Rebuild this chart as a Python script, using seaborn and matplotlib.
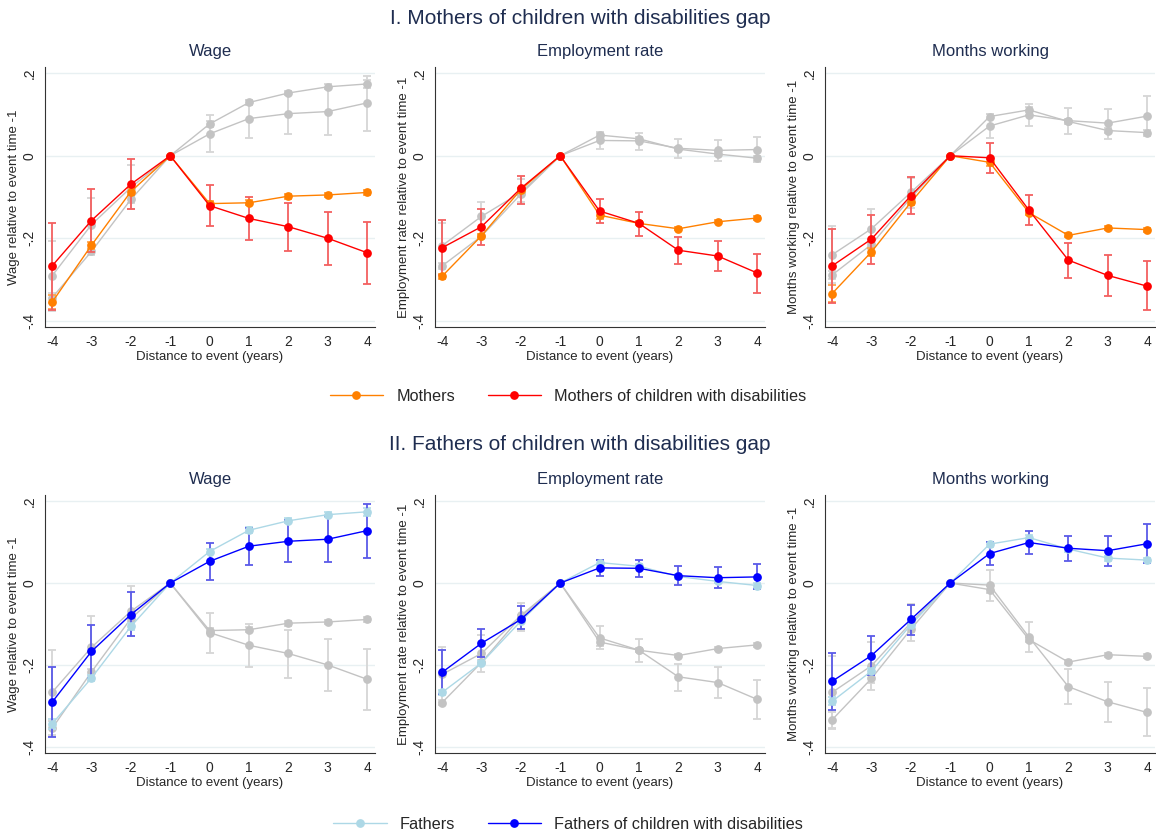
import numpy as np
import pandas as pd
import matplotlib
matplotlib.use("Agg")
import matplotlib.pyplot as plt
from matplotlib.lines import Line2D
import seaborn as sns

# --- datos ---
years = [-4, -3, -2, -1, 0, 1, 2, 3, 4]
outcomes = ["Wage", "Employment rate", "Months working"]
ylabels = ["Wage relative to event time -1",
           "Employment rate relative to event time -1",
           "Months working relative to event time -1"]
ytick_vals = [-0.4, -0.2, 0, 0.2]
ytick_labels = ["-.4", "-.2", "0", ".2"]

# Mothers
mothers_wage = [-0.355, -0.217, -0.087, 0, -0.116, -0.114, -0.098, -0.095, -0.089]
mothers_wage_lo = [-0.372, -0.225, -0.095, 0, -0.122, -0.120, -0.104, -0.100, -0.095]
mothers_wage_hi = [-0.338, -0.209, -0.079, 0, -0.110, -0.108, -0.092, -0.090, -0.083]
mothers_emp = [-0.292, -0.194, -0.082, 0, -0.144, -0.164, -0.177, -0.160, -0.151]
mothers_emp_lo = [-0.298, -0.199, -0.087, 0, -0.154, -0.169, -0.181, -0.164, -0.155]
mothers_emp_hi = [-0.286, -0.189, -0.077, 0, -0.134, -0.159, -0.173, -0.156, -0.147]
mothers_mw = [-0.334, -0.233, -0.113, 0, -0.016, -0.138, -0.193, -0.175, -0.179]
mothers_mw_lo = [-0.354, -0.243, -0.120, 0, -0.024, -0.144, -0.198, -0.180, -0.184]
mothers_mw_hi = [-0.314, -0.223, -0.106, 0, -0.008, -0.132, -0.188, -0.170, -0.174]

# Mothers of children with disabilities
mcwd_wage = [-0.267, -0.157, -0.069, 0, -0.121, -0.152, -0.172, -0.200, -0.235]
mcwd_wage_lo = [-0.373, -0.233, -0.130, 0, -0.171, -0.205, -0.231, -0.264, -0.310]
mcwd_wage_hi = [-0.163, -0.081, -0.008, 0, -0.072, -0.101, -0.114, -0.136, -0.160]
mcwd_emp = [-0.223, -0.172, -0.079, 0, -0.134, -0.164, -0.229, -0.243, -0.284]
mcwd_emp_lo = [-0.290, -0.217, -0.116, 0, -0.162, -0.194, -0.263, -0.280, -0.332]
mcwd_emp_hi = [-0.155, -0.128, -0.049, 0, -0.104, -0.136, -0.197, -0.206, -0.237]
mcwd_mw = [-0.267, -0.202, -0.097, 0, -0.005, -0.132, -0.253, -0.290, -0.316]
mcwd_mw_lo = [-0.356, -0.262, -0.142, 0, -0.043, -0.168, -0.296, -0.339, -0.373]
mcwd_mw_hi = [-0.177, -0.144, -0.051, 0, 0.032, -0.094, -0.211, -0.241, -0.256]

# Fathers
fathers_wage = [-0.344, -0.232, -0.106, 0, 0.077, 0.129, 0.152, 0.167, 0.174]
fathers_wage_lo = [-0.356, -0.240, -0.114, 0, 0.070, 0.122, 0.146, 0.161, 0.164]
fathers_wage_hi = [-0.332, -0.224, -0.098, 0, 0.084, 0.136, 0.158, 0.173, 0.184]
fathers_emp = [-0.267, -0.195, -0.093, 0, 0.050, 0.041, 0.016, 0.004, -0.006]
fathers_emp_lo = [-0.274, -0.200, -0.098, 0, 0.044, 0.036, 0.011, -0.001, -0.012]
fathers_emp_hi = [-0.260, -0.190, -0.088, 0, 0.056, 0.046, 0.021, 0.009, 0.000]
fathers_mw = [-0.289, -0.215, -0.102, 0, 0.095, 0.111, 0.083, 0.061, 0.056]
fathers_mw_lo = [-0.299, -0.222, -0.108, 0, 0.089, 0.105, 0.077, 0.055, 0.050]
fathers_mw_hi = [-0.279, -0.208, -0.096, 0, 0.101, 0.117, 0.089, 0.067, 0.062]

# Fathers of children with disabilities
fcwd_wage = [-0.291, -0.167, -0.077, 0, 0.053, 0.090, 0.102, 0.107, 0.128]
fcwd_wage_lo = [-0.376, -0.232, -0.130, 0, 0.008, 0.044, 0.052, 0.051, 0.060]
fcwd_wage_hi = [-0.206, -0.102, -0.023, 0, 0.098, 0.135, 0.154, 0.164, 0.194]
fcwd_emp = [-0.218, -0.147, -0.089, 0, 0.037, 0.036, 0.018, 0.013, 0.015]
fcwd_emp_lo = [-0.272, -0.181, -0.111, 0, 0.016, 0.015, -0.005, -0.013, -0.015]
fcwd_emp_hi = [-0.164, -0.112, -0.057, 0, 0.057, 0.056, 0.041, 0.038, 0.046]
fcwd_mw = [-0.240, -0.177, -0.089, 0, 0.072, 0.099, 0.085, 0.079, 0.096]
fcwd_mw_lo = [-0.309, -0.225, -0.126, 0, 0.043, 0.071, 0.053, 0.041, 0.049]
fcwd_mw_hi = [-0.171, -0.130, -0.053, 0, 0.100, 0.126, 0.116, 0.114, 0.144]

groups = ["Mothers", "Mothers of children with disabilities",
          "Fathers", "Fathers of children with disabilities"]

series = {
    ("Mothers", "Wage"): (mothers_wage, mothers_wage_lo, mothers_wage_hi),
    ("Mothers", "Employment rate"): (mothers_emp, mothers_emp_lo, mothers_emp_hi),
    ("Mothers", "Months working"): (mothers_mw, mothers_mw_lo, mothers_mw_hi),
    ("Mothers of children with disabilities", "Wage"): (mcwd_wage, mcwd_wage_lo, mcwd_wage_hi),
    ("Mothers of children with disabilities", "Employment rate"): (mcwd_emp, mcwd_emp_lo, mcwd_emp_hi),
    ("Mothers of children with disabilities", "Months working"): (mcwd_mw, mcwd_mw_lo, mcwd_mw_hi),
    ("Fathers", "Wage"): (fathers_wage, fathers_wage_lo, fathers_wage_hi),
    ("Fathers", "Employment rate"): (fathers_emp, fathers_emp_lo, fathers_emp_hi),
    ("Fathers", "Months working"): (fathers_mw, fathers_mw_lo, fathers_mw_hi),
    ("Fathers of children with disabilities", "Wage"): (fcwd_wage, fcwd_wage_lo, fcwd_wage_hi),
    ("Fathers of children with disabilities", "Employment rate"): (fcwd_emp, fcwd_emp_lo, fcwd_emp_hi),
    ("Fathers of children with disabilities", "Months working"): (fcwd_mw, fcwd_mw_lo, fcwd_mw_hi),
}

rows = []
for (g, o), (c, lo, hi) in series.items():
    for t, ci, l, h in zip(years, c, lo, hi):
        rows.append({"group": g, "outcome": o, "t": t, "coef": ci, "lo": l, "hi": h})
df = pd.DataFrame(rows)

# --- estilo ---
sns.set_theme(style="white")
plt.rcParams["font.family"] = ["Liberation Sans", "DejaVu Sans"]

GRAY = "#c3c3c3"
GRAY_ERR = "#d6d6d6"
line_col = {"Mothers": "#ff8000", "Mothers of children with disabilities": "#ff0000",
            "Fathers": "#add8e6", "Fathers of children with disabilities": "#0000ff"}
err_col = {"Mothers": "#ffa54d", "Mothers of children with disabilities": "#f36060",
           "Fathers": "#b9dfec", "Fathers of children with disabilities": "#5a5ae8"}
TITLE_COL = "#1f2d50"

fig = plt.figure(figsize=(11.56, 8.38), dpi=100)
W, H = 1156, 838

# posiciones de paneles en pixeles (izq, der) y (arriba, abajo)
panel_x = [(45, 375), (435, 765), (825, 1155)]
panel_y = [(67, 327), (495, 753)]

row_groups = [
    (["Mothers", "Mothers of children with disabilities"],
     ["Fathers", "Fathers of children with disabilities"]),
    (["Fathers", "Fathers of children with disabilities"],
     ["Mothers", "Mothers of children with disabilities"]),
]
section_titles = ["I. Mothers of children with disabilities gap",
                  "II. Fathers of children with disabilities gap"]

for r in range(2):
    active, background = row_groups[r]
    top, bot = panel_y[r]
    for c, outcome in enumerate(outcomes):
        left, right = panel_x[c]
        ax = fig.add_axes([left / W, 1 - bot / H, (right - left) / W, (bot - top) / H])
        sub = df[df["outcome"] == outcome]

        order = background + active
        pal = {g: (line_col[g] if g in active else GRAY) for g in order}
        for g in order:
            d = sub[sub["group"] == g]
            ecol = err_col[g] if g in active else GRAY_ERR
            ax.errorbar(d["t"], d["coef"],
                        yerr=[d["coef"] - d["lo"], d["hi"] - d["coef"]],
                        fmt="none", ecolor=ecol, elinewidth=1.3, capsize=3,
                        capthick=1.3, zorder=2 if g in background else 4)
            sns.lineplot(data=d, x="t", y="coef", color=pal[g], marker="o",
                         markersize=6.3, markeredgewidth=0, linewidth=1.0,
                         ax=ax, zorder=3 if g in background else 5, legend=False)

        ax.set_xlim(-4.18, 4.2)
        ax.set_ylim(-0.415, 0.215)
        ax.set_xticks(years)
        ax.set_xticklabels([str(y) for y in years], fontsize=10)
        ax.set_yticks(ytick_vals)
        ax.set_yticklabels(ytick_labels, fontsize=10, rotation=90, va="center")
        ax.yaxis.grid(True, color="#e8f0f2", linewidth=1.0)
        ax.set_axisbelow(True)
        ax.tick_params(axis="both", direction="out", length=4, width=0.8,
                       color="#333333", pad=2)
        sns.despine(ax=ax)
        for s in ["left", "bottom"]:
            ax.spines[s].set_color("#333333")
            ax.spines[s].set_linewidth(0.8)
        ax.set_xlabel("Distance to event (years)", fontsize=9.5, labelpad=1)
        ax.set_ylabel(ylabels[c], fontsize=9.5, labelpad=2)
        ax.set_title(outcome, fontsize=12, color=TITLE_COL, pad=8)

    # título de sección
    ty = 18 if r == 0 else 444
    fig.text(0.5 * 1160 / W, 1 - ty / H, section_titles[r], ha="center", va="center",
             fontsize=15, color=TITLE_COL)

    # leyenda
    handles = [Line2D([0], [0], color=line_col[g], marker="o", markersize=6.3,
                      markeredgewidth=0, linewidth=1.0) for g in active]
    ly = 396 if r == 0 else 824
    fig.legend(handles, active, loc="center", bbox_to_anchor=(568 / W, 1 - ly / H),
               ncol=2, frameon=False, fontsize=11.7, handlelength=3.3,
               columnspacing=2.0, handletextpad=0.8)

fig.savefig("out.png", dpi=100)
